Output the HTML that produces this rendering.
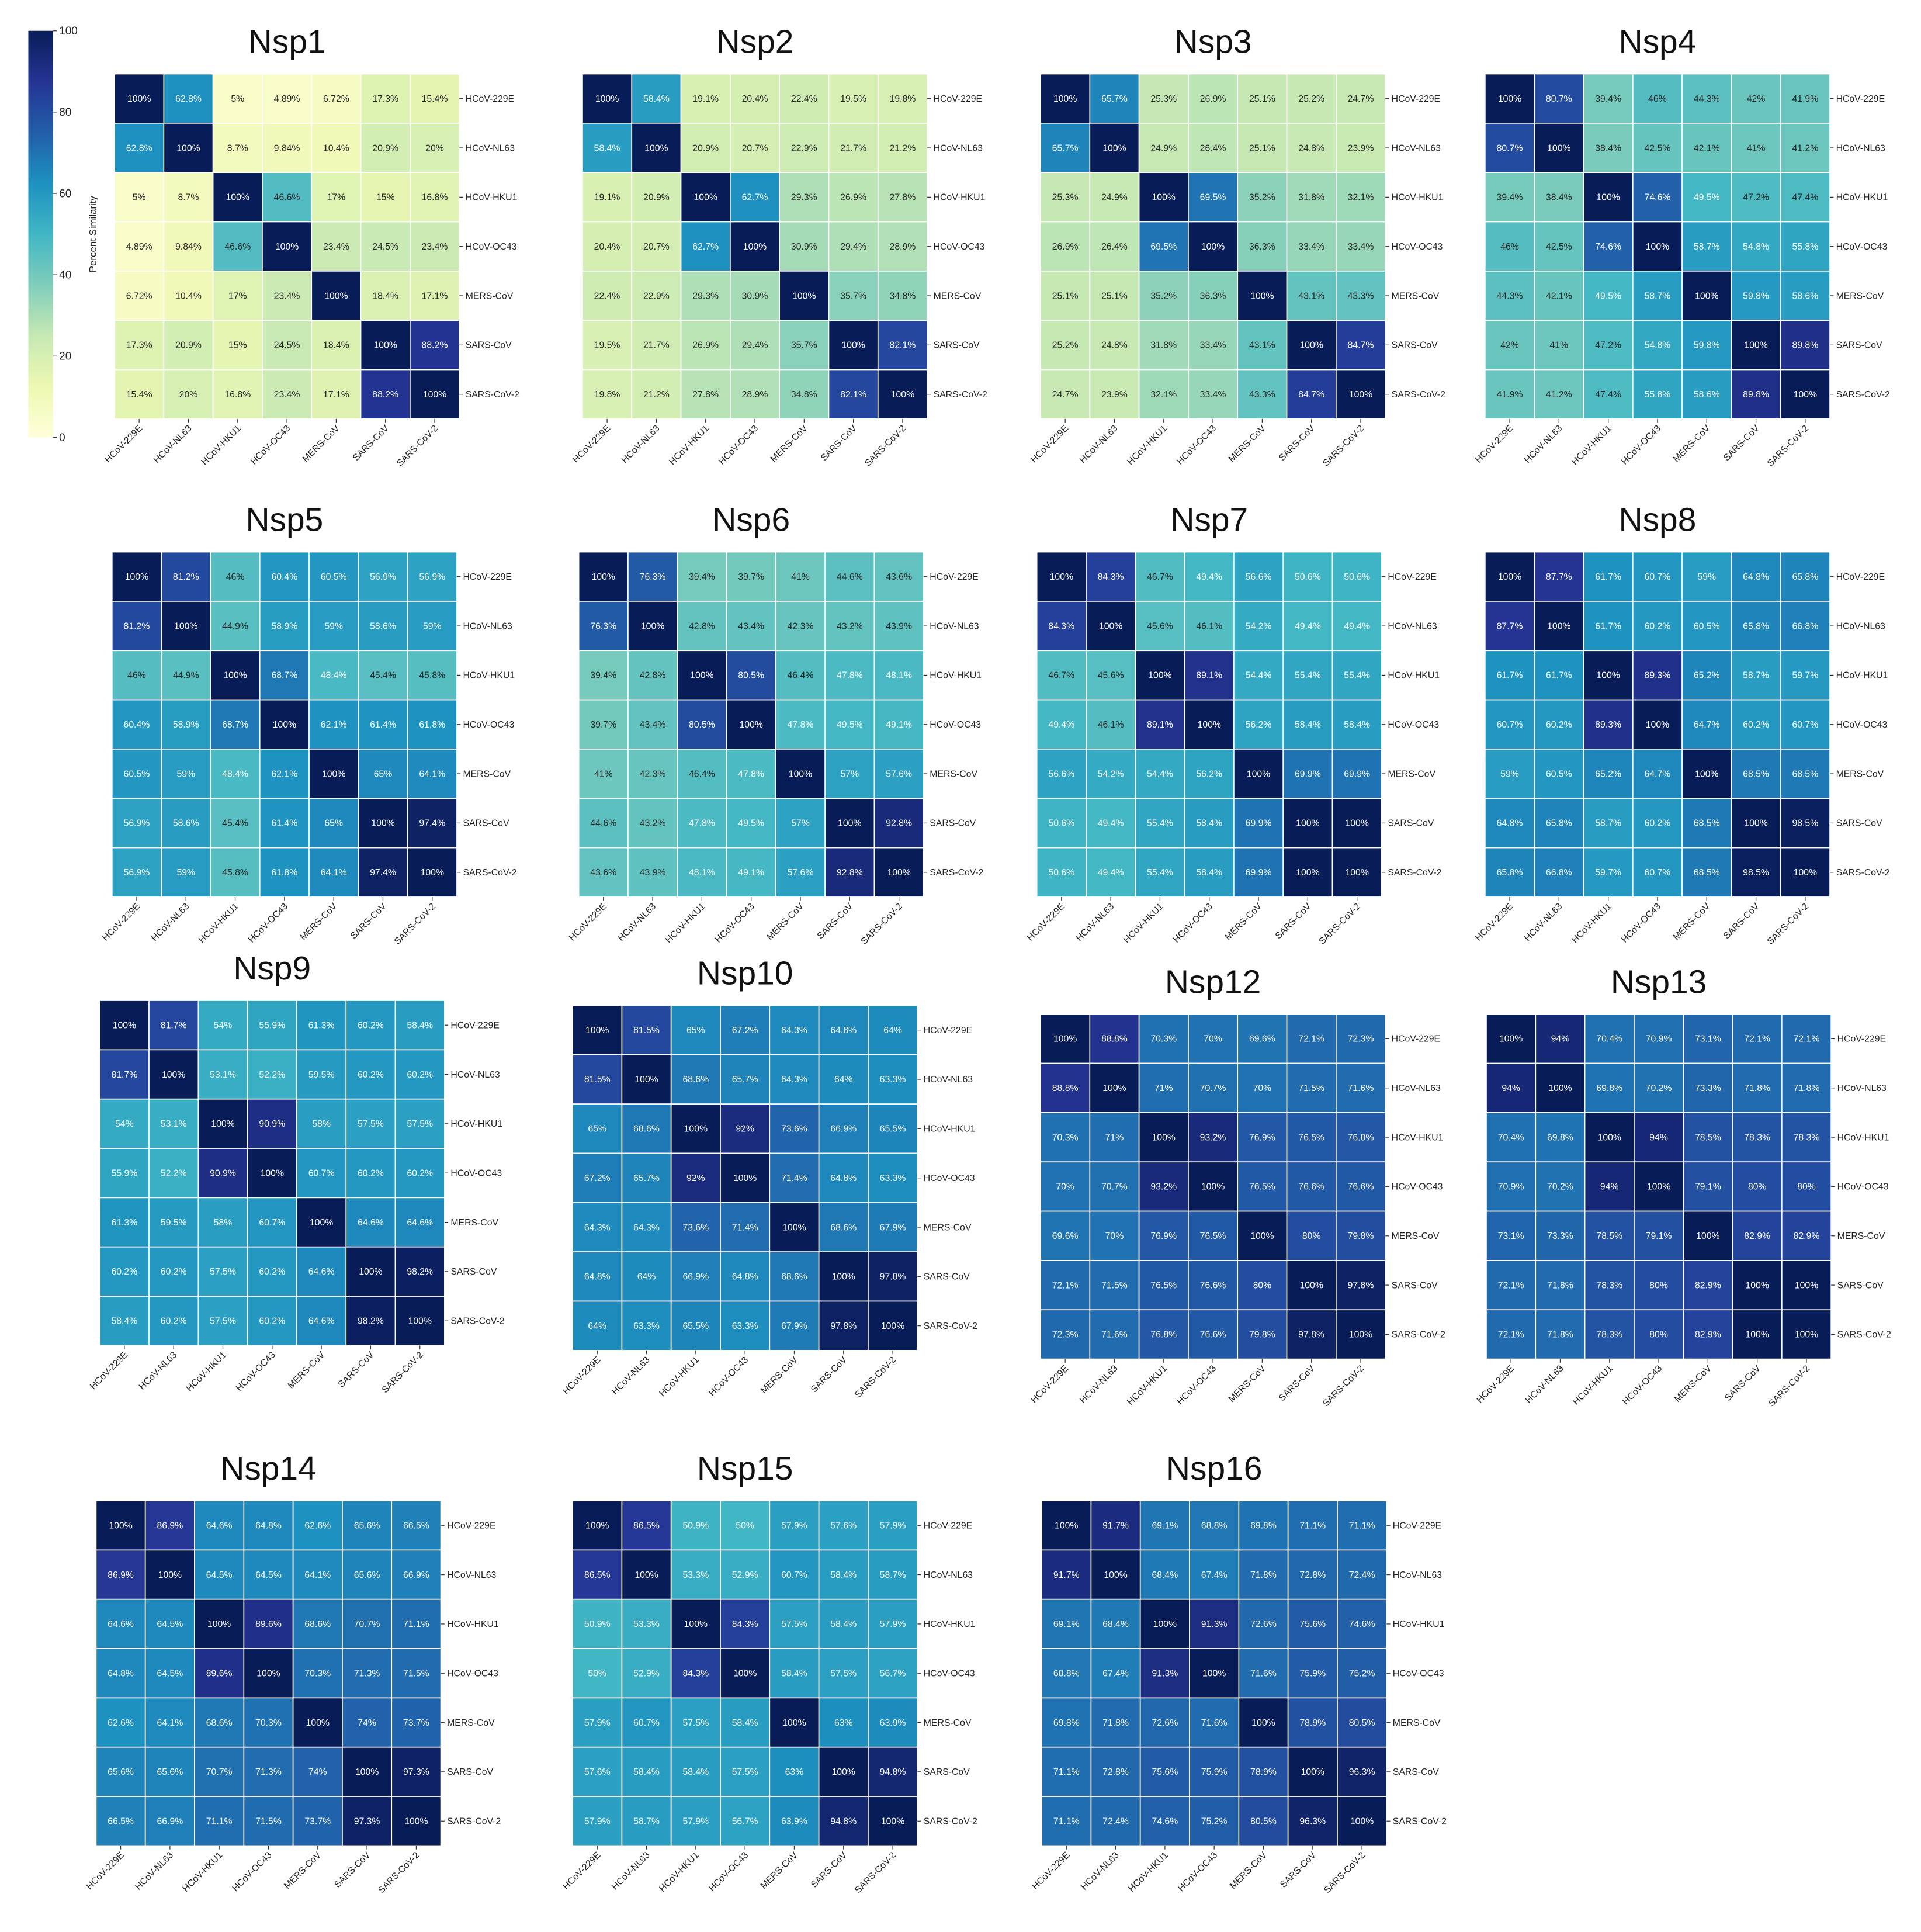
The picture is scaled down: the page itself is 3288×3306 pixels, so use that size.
<!DOCTYPE html>
<html><head><meta charset="utf-8"><style>
html,body{margin:0;padding:0;background:#fff;}
svg{display:block;font-family:"Liberation Sans",sans-serif;}
</style></head><body>
<svg id="chart" width="3288" height="3306" viewBox="0 0 1560 1568" preserveAspectRatio="none" xmlns="http://www.w3.org/2000/svg">
<defs><linearGradient id="cbgrad" x1="0" y1="1" x2="0" y2="0">
<stop offset="0" stop-color="#ffffd9"/><stop offset="0.125" stop-color="#edf8b1"/><stop offset="0.25" stop-color="#c7e9b4"/><stop offset="0.375" stop-color="#7fcdbb"/><stop offset="0.5" stop-color="#41b6c4"/><stop offset="0.625" stop-color="#1d91c0"/><stop offset="0.75" stop-color="#225ea8"/><stop offset="0.875" stop-color="#253494"/><stop offset="1" stop-color="#081d58"/></linearGradient></defs>
</svg>
<script>
const viruses = ["HCoV-229E","HCoV-NL63","HCoV-HKU1","HCoV-OC43","MERS-CoV","SARS-CoV","SARS-CoV-2"];
const proteins = ["Nsp1","Nsp2","Nsp3","Nsp4","Nsp5","Nsp6","Nsp7","Nsp8","Nsp9","Nsp10","Nsp12","Nsp13","Nsp14","Nsp15","Nsp16"];
const nsp1 = [62.8,5,4.89,6.72,17.3,15.4, 8.7,9.84,10.4,20.9,20, 46.6,17,15,16.8, 23.4,24.5,23.4, 18.4,17.1, 88.2];
const nsp2 = [58.4,19.1,20.4,22.4,19.5,19.8, 20.9,20.7,22.9,21.7,21.2, 62.7,29.3,26.9,27.8, 30.9,29.4,28.9, 35.7,34.8, 82.1];
const nsp3 = [65.7,25.3,26.9,25.1,25.2,24.7, 24.9,26.4,25.1,24.8,23.9, 69.5,35.2,31.8,32.1, 36.3,33.4,33.4, 43.1,43.3, 84.7];
const nsp4 = [80.7,39.4,46,44.3,42,41.9, 38.4,42.5,42.1,41,41.2, 74.6,49.5,47.2,47.4, 58.7,54.8,55.8, 59.8,58.6, 89.8];
const nsp5 = [81.2,46,60.4,60.5,56.9,56.9, 44.9,58.9,59,58.6,59, 68.7,48.4,45.4,45.8, 62.1,61.4,61.8, 65,64.1, 97.4];
const nsp6 = [76.3,39.4,39.7,41,44.6,43.6, 42.8,43.4,42.3,43.2,43.9, 80.5,46.4,47.8,48.1, 47.8,49.5,49.1, 57,57.6, 92.8];
const nsp7 = [84.3,46.7,49.4,56.6,50.6,50.6, 45.6,46.1,54.2,49.4,49.4, 89.1,54.4,55.4,55.4, 56.2,58.4,58.4, 69.9,69.9, 100];
const nsp8 = [87.7,61.7,60.7,59,64.8,65.8, 61.7,60.2,60.5,65.8,66.8, 89.3,65.2,58.7,59.7, 64.7,60.2,60.7, 68.5,68.5, 98.5];
const nsp9 = [81.7,54,55.9,61.3,60.2,58.4, 53.1,52.2,59.5,60.2,60.2, 90.9,58,57.5,57.5, 60.7,60.2,60.2, 64.6,64.6, 98.2];
const nsp10 = [81.5,65,67.2,64.3,64.8,64, 68.6,65.7,64.3,64,63.3, 92,73.6,66.9,65.5, 71.4,64.8,63.3, 68.6,67.9, 97.8];
const nsp12 = [88.8,70.3,70,69.6,72.1,72.3, 71,70.7,70,71.5,71.6, 93.2,76.9,76.5,76.8, 76.5,76.6,76.6, 80,79.8, 97.8];
const nsp13 = [94,70.4,70.9,73.1,72.1,72.1, 69.8,70.2,73.3,71.8,71.8, 94,78.5,78.3,78.3, 79.1,80,80, 82.9,82.9, 100];
const nsp14 = [86.9,64.6,64.8,62.6,65.6,66.5, 64.5,64.5,64.1,65.6,66.9, 89.6,68.6,70.7,71.1, 70.3,71.3,71.5, 74,73.7, 97.3];
const nsp15 = [86.5,50.9,50,57.9,57.6,57.9, 53.3,52.9,60.7,58.4,58.7, 84.3,57.5,58.4,57.9, 58.4,57.5,56.7, 63,63.9, 94.8];
const nsp16 = [91.7,69.1,68.8,69.8,71.1,71.1, 68.4,67.4,71.8,72.8,72.4, 91.3,72.6,75.6,74.6, 71.6,75.9,75.2, 78.9,80.5, 96.3];
const colorbarTicks = [0,20,40,60,80,100];
</script>
<script>
const NS="http://www.w3.org/2000/svg";
const svg=document.getElementById('chart');
const allData=[nsp1,nsp2,nsp3,nsp4,nsp5,nsp6,nsp7,nsp8,nsp9,nsp10,nsp12,nsp13,nsp14,nsp15,nsp16];
const origins=[[93,60],[473,60],[845,60],[1206,60],[91,448],[470,448],[842,448],[1206,448],[81,812],[465,816],[845,823],[1207,823],[78,1218],[465,1218],[846,1218]];
const CELL=40;
const stops=[[255,255,217],[237,248,177],[199,233,180],[127,205,187],[65,182,196],[29,145,192],[34,94,168],[37,52,148],[8,29,88]];
function cmap(v){let t=Math.max(0,Math.min(1,v/100))*8;let i=Math.min(7,Math.floor(t));let f=t-i;
 const c=stops[i].map((a,k)=>Math.round(a+(stops[i+1][k]-a)*f));return c;}
function lum(c){const l=c.map(x=>{x/=255;return x<=0.03928?x/12.92:Math.pow((x+0.055)/1.055,2.4)});return 0.2126*l[0]+0.7152*l[1]+0.0722*l[2];}
function el(tag,attrs,parent){const e=document.createElementNS(NS,tag);for(const k in attrs)e.setAttribute(k,attrs[k]);(parent||svg).appendChild(e);return e;}
function matrix(tri){const m=[];for(let i=0;i<7;i++){m.push(new Array(7).fill(100));}
 let k=0;for(let i=0;i<7;i++)for(let j=i+1;j<7;j++){m[i][j]=tri[k];m[j][i]=tri[k];k++;}return m;}
proteins.forEach((p,pi)=>{
 const [ox,oy]=origins[pi];const m=matrix(allData[pi]);
 const g=el('g',{});
 
 
 const xs=i=>ox+i*CELL, ys=i=>oy+i*CELL;
 const t=el('text',{x:ox+CELL*3.5,y:oy-17,'text-anchor':'middle','font-size':27,fill:'#111'},g);t.textContent=p;
 
 
 for(let i=0;i<7;i++)for(let j=0;j<7;j++){
  const v=m[i][j];const c=cmap(v);
  const r=el('rect',{x:xs(j),y:ys(i),width:CELL,height:CELL,fill:`rgb(${c})`,stroke:'#fff','stroke-width':0.8},g);
  
  
  const tx=el('text',{x:xs(j)+CELL/2,y:ys(i)+CELL/2+2.5,'text-anchor':'middle','font-size':7.5,fill:lum(c)<0.408?'#fff':'#262626'},g);
  tx.textContent=v+'%';
  
  
 }
 viruses.forEach((vn,i)=>{
  const a=el('text',{x:ox+7*CELL+5,y:ys(i)+CELL/2+2.5,'font-size':7.5,fill:'#222'},g);a.textContent=vn;
  
  
  el('line',{x1:ox+7*CELL,x2:ox+7*CELL+3,y1:ys(i)+CELL/2,y2:ys(i)+CELL/2,stroke:'#333','stroke-width':0.6},g);
  const bx=xs(i)+CELL/2+3, by=oy+7*CELL+8;
  const b=el('text',{x:bx,y:by,'font-size':7.5,fill:'#222','text-anchor':'end',transform:`rotate(-45 ${bx} ${by})`},g);b.textContent=vn;
  
  
  el('line',{x1:xs(i)+CELL/2,x2:xs(i)+CELL/2,y1:oy+7*CELL,y2:oy+7*CELL+3,stroke:'#333','stroke-width':0.6},g);
 });
});
// colorbar
const cb=el('rect',{x:23,y:25,width:20,height:330,fill:'url(#cbgrad)'});


colorbarTicks.forEach(v=>{
 const y=355-v/100*330;
 el('line',{x1:43,x2:46,y1:y,y2:y,stroke:'#333','stroke-width':0.6});
 const t=el('text',{x:48,y:y+3,'font-size':9,fill:'#222'});t.textContent=v;
 
 
});
const cl=el('text',{x:78,y:190,'font-size':8,fill:'#222','text-anchor':'middle',transform:'rotate(-90 78 190)'});cl.textContent='Percent Similarity';


</script>
</body></html>
